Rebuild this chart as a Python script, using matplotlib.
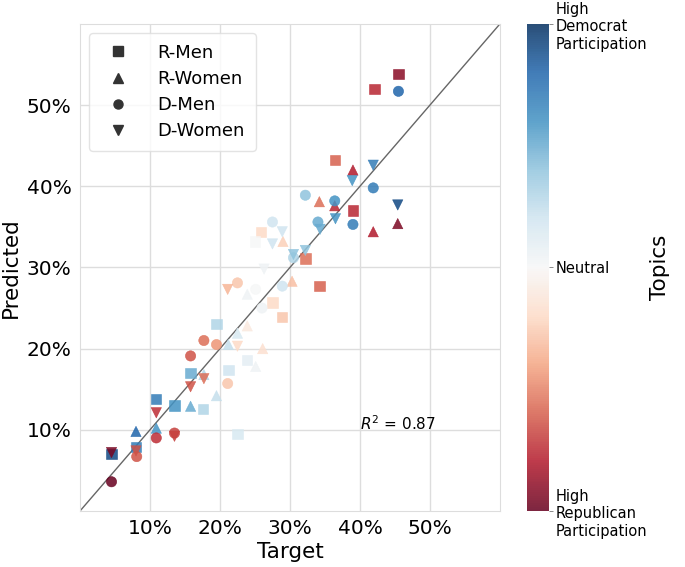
import matplotlib

matplotlib.use("Agg")

import matplotlib.pyplot as plt
from matplotlib.lines import Line2D
from matplotlib.ticker import PercentFormatter
from matplotlib.cm import ScalarMappable
from matplotlib.colors import Normalize

# values in percent; colour: 0 = high Republican participation, 1 = high Democrat participation
r_men_x = [45.5, 42.1, 36.4, 39.0, 32.2, 34.2, 25.9, 25.0, 27.5, 28.9, 19.5, 23.9, 15.8, 21.2, 10.9, 13.5, 17.6, 22.5, 8.0, 4.5]
r_men_y = [53.8, 52.0, 43.2, 37.0, 31.1, 27.7, 34.4, 33.2, 25.7, 23.9, 23.0, 18.6, 17.0, 17.4, 13.8, 13.0, 12.6, 9.5, 7.9, 7.0]
r_men_c = [0.05, 0.12, 0.20, 0.12, 0.22, 0.20, 0.40, 0.50, 0.40, 0.36, 0.65, 0.55, 0.75, 0.60, 0.85, 0.80, 0.65, 0.58, 0.85, 0.95]

r_women_x = [45.4, 41.9, 39.0, 34.2, 36.4, 29.0, 30.3, 23.9, 26.1, 21.2, 22.5, 17.7, 19.5, 15.8, 10.9, 8.0, 25.1, 23.9]
r_women_y = [35.4, 34.4, 42.0, 38.1, 37.6, 33.2, 28.3, 26.7, 20.0, 20.5, 21.9, 16.8, 14.2, 12.9, 10.2, 9.8, 17.8, 22.8]
r_women_c = [0.03, 0.10, 0.10, 0.22, 0.12, 0.38, 0.35, 0.52, 0.42, 0.62, 0.58, 0.65, 0.62, 0.75, 0.80, 0.90, 0.52, 0.45]

d_men_x = [45.5, 41.9, 32.2, 36.4, 34.0, 39.0, 27.5, 30.5, 28.9, 22.5, 25.1, 26.0, 17.7, 19.5, 15.8, 21.1, 10.9, 13.5, 8.1, 4.5]
d_men_y = [51.7, 39.8, 38.9, 38.2, 35.6, 35.3, 35.6, 31.2, 27.7, 28.1, 27.3, 25.0, 21.0, 20.5, 19.1, 15.7, 9.0, 9.6, 6.7, 3.6]
d_men_c = [0.90, 0.85, 0.70, 0.80, 0.75, 0.85, 0.60, 0.65, 0.60, 0.36, 0.50, 0.52, 0.22, 0.28, 0.18, 0.36, 0.13, 0.16, 0.18, 0.00]

d_women_x = [41.9, 38.9, 45.4, 36.5, 34.3, 28.9, 27.5, 30.5, 32.2, 26.3, 21.1, 22.5, 17.7, 15.8, 10.9, 13.5, 4.5, 8.0]
d_women_y = [42.6, 40.7, 37.7, 36.0, 34.7, 34.4, 32.9, 31.6, 32.1, 29.8, 27.3, 20.3, 16.3, 15.3, 12.1, 9.2, 7.2, 7.4]
d_women_c = [0.85, 0.80, 0.95, 0.80, 0.75, 0.60, 0.60, 0.70, 0.70, 0.52, 0.33, 0.40, 0.22, 0.18, 0.13, 0.16, 0.02, 0.18]

groups = [
    ("R-Men", "s", r_men_x, r_men_y, r_men_c),
    ("R-Women", "^", r_women_x, r_women_y, r_women_c),
    ("D-Men", "o", d_men_x, d_men_y, d_men_c),
    ("D-Women", "v", d_women_x, d_women_y, d_women_c),
]

r_squared = 0.87
cbar_ticks = [0, 0.5, 1]
cbar_labels = ["High\nRepublican\nParticipation", "Neutral", "High\nDemocrat\nParticipation"]

cmap = plt.get_cmap("RdBu")
norm = Normalize(vmin=0, vmax=1)

fig = plt.figure(figsize=(6.85, 5.67), dpi=100)
ax = fig.add_axes([0.1168, 0.0988, 0.613, 0.859])
cax = fig.add_axes([0.769, 0.0988, 0.032, 0.859])

ax.plot([0, 60], [0, 60], color="#666666", linewidth=1, zorder=1)

for name, marker, xs, ys, cs in groups:
    ax.scatter(xs, ys, c=cs, cmap=cmap, norm=norm, marker=marker, s=55,
               alpha=0.85, linewidths=0.4, edgecolors="face", zorder=3)

ax.set_xlim(0, 60)
ax.set_ylim(0, 60)
ax.set_xticks([10, 20, 30, 40, 50])
ax.set_yticks([10, 20, 30, 40, 50])
ax.xaxis.set_major_formatter(PercentFormatter(100, decimals=0))
ax.yaxis.set_major_formatter(PercentFormatter(100, decimals=0))
ax.tick_params(labelsize=14.5, length=0, pad=6)
ax.grid(True, color="#dddddd", linewidth=1)
ax.set_axisbelow(True)
for spine in ax.spines.values():
    spine.set_color("#dddddd")
ax.set_xlabel("Target", fontsize=15.5, labelpad=3)
ax.set_ylabel("Predicted", fontsize=15.5, labelpad=4)

ax.text(40, 10.7, f"$R^2$ = {r_squared}", fontsize=11, ha="left", va="center")

handles = [Line2D([], [], marker=m, linestyle="", color="#333333", markersize=6.5)
           for _, m, _, _, _ in groups]
ax.legend(handles, [g[0] for g in groups], loc="upper left", fontsize=13,
          frameon=True, edgecolor="#dddddd", borderpad=0.6, handletextpad=1.2,
          labelspacing=0.45, bbox_to_anchor=(0.0, 1.0))

sm = ScalarMappable(norm=norm, cmap=cmap)
cbar = fig.colorbar(sm, cax=cax, alpha=0.85)
cbar.set_ticks(cbar_ticks)
cbar.set_ticklabels(cbar_labels)
cbar.ax.tick_params(labelsize=10.5, length=3, width=0.6, color="#777777", pad=2)
cbar.outline.set_visible(False)
cbar.set_label("Topics", fontsize=15.5, labelpad=2)

fig.savefig("out.png", dpi=100)
plt.close(fig)
